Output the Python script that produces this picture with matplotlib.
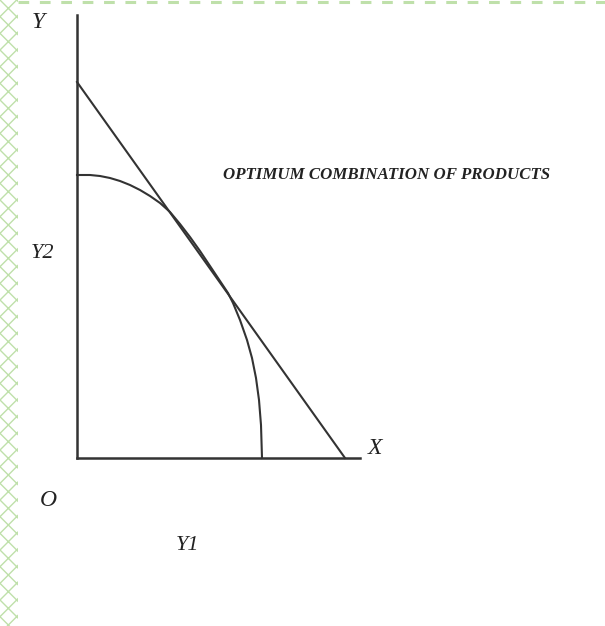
import matplotlib
matplotlib.use('Agg')
import matplotlib.pyplot as plt
from matplotlib.patches import Rectangle
from matplotlib.lines import Line2D

# production possibility curve (origin at O)
curve_x = [0, 13, 23, 33, 43, 53, 63, 73, 83, 93, 103, 113, 123, 133,
           143, 151, 156, 163, 170, 175, 179, 182, 184, 185]
curve_y = [283, 283, 282, 280, 277, 273, 268, 262, 255, 246, 234, 221, 207, 192,
           177, 165, 155, 138, 118, 100, 80, 58, 33, 0]

# iso-revenue line: intercepts on the two axes
line_x = [0, 268]
line_y = [376, 0]

# axis extents
x_max = 283
y_max = 443

title = 'OPTIMUM COMBINATION OF PRODUCTS'

fig = plt.figure(figsize=(6.05, 6.26), dpi=100)

# green border decoration: crosshatch strip on the left, dashes on top
fig.patches.append(Rectangle((0, 0), 18 / 605, 1, transform=fig.transFigure,
                             facecolor='none', edgecolor='#bfe0aa', hatch='xx',
                             linewidth=0))
fig.lines.append(Line2D([18 / 605, 1], [0.997, 0.997], transform=fig.transFigure,
                        color='#bfe0aa', linewidth=2.2, dashes=(3.5, 3.5)))

ax = fig.add_axes([77 / 605, 168 / 626, x_max / 605, y_max / 626])
ax.set_xlim(0, x_max)
ax.set_ylim(0, y_max)
for side in ['top', 'right']:
    ax.spines[side].set_visible(False)
for side in ['left', 'bottom']:
    ax.spines[side].set_linewidth(1.8)
    ax.spines[side].set_color('#333333')
ax.set_xticks([])
ax.set_yticks([])
ax.patch.set_alpha(0)

ax.plot(line_x, line_y, color='#333333', linewidth=1.5, clip_on=False)
ax.plot(curve_x, curve_y, color='#333333', linewidth=1.5, clip_on=False,
        solid_joinstyle='round')

font = dict(family='Liberation Serif', style='italic', color='#222222')
ax.text(-39, 436, 'Y', fontsize=17, ha='center', va='center', **font)
ax.text(-35, 204, 'Y2', fontsize=16, ha='center', va='center', **font)
ax.text(298, 9, 'X', fontsize=17, ha='center', va='center', **font)
ax.text(-29, -42, 'O', fontsize=17, ha='center', va='center', **font)
ax.text(110, -88, 'Y1', fontsize=16, ha='center', va='center', **font)
ax.text(310, 283, title, fontsize=12.2, ha='center', va='center',
        fontweight='bold', **font)

plt.savefig('out.png', dpi=100)
